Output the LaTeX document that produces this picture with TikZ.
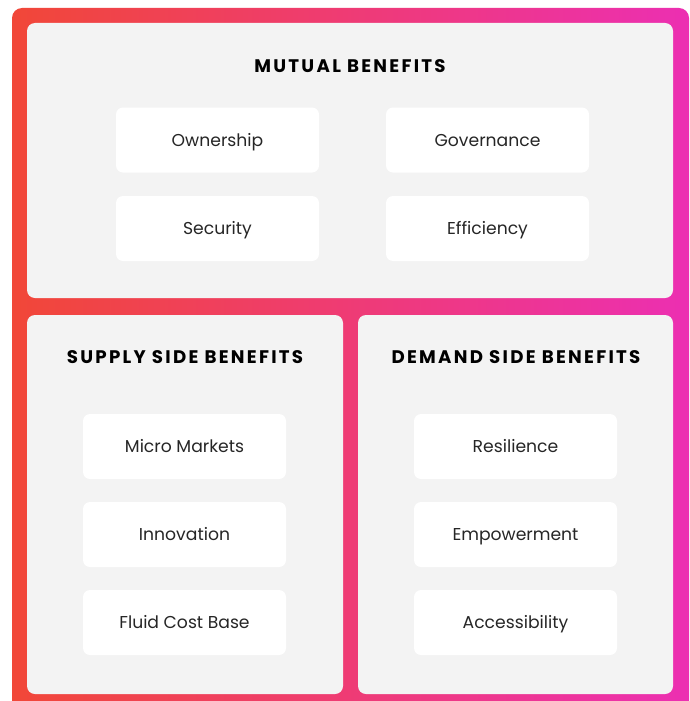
\documentclass[tikz,border=0pt]{standalone}
\usepackage{fontspec}
\setmainfont{Poppins}
\newfontfamily\headfont[LetterSpace=12.5]{Poppins}
\definecolor{edgeL}{RGB}{241,71,56}
\definecolor{edgeR}{RGB}{236,47,178}
\definecolor{panelgray}{RGB}{243,243,243}
\definecolor{ink}{RGB}{38,38,38}
\begin{document}
\begin{tikzpicture}[x=1pt,y=-1pt,
    panel/.style={fill=panelgray,rounded corners=8pt,inner sep=0pt},
    item/.style={fill=white,rounded corners=7pt,minimum width=203pt,minimum height=65pt,
      text=ink,text height=15pt,text depth=3pt,font=\fontsize{17.2}{20}\selectfont},
    head/.style={text=black,text height=15pt,text depth=3pt,
      font=\headfont\bfseries\fontsize{18.2}{20}\selectfont}]
\useasboundingbox (0,0) rectangle (690,701);
\fill[white] (0,0) rectangle (690,701);
% gradient frame
\shade[left color=edgeL,right color=edgeR,rounded corners=10pt] (12,8) rectangle (689,715);
% three panels
\node[panel,minimum width=646pt,minimum height=275pt] (mutual) at (350,160.5) {};
\node[panel,minimum width=316pt,minimum height=379pt] (supply) at (185,504.5) {};
\node[panel,minimum width=315pt,minimum height=379pt] (demand) at (515.5,504.5) {};
\node[head] (mutualhead) at (350,66) {MUTUAL BENEFITS};
\node[head] (supplyhead) at (185,357) {SUPPLY SIDE BENEFITS};
\node[head] (demandhead) at (516,357) {DEMAND SIDE BENEFITS};
% mutual items
\node[item] (ownership) at (217.5,140) {Ownership};
\node[item] (governance) at (487.5,140) {Governance};
\node[item] (security) at (217.5,228.5) {Security};
\node[item] (efficiency) at (487.5,228.5) {Efficiency};
% supply and demand items
\node[item] (micro) at (184.5,446.5) {Micro Markets};
\node[item] (innovation) at (184.5,534.5) {Innovation};
\node[item] (fluid) at (184.5,622.5) {Fluid Cost Base};
\node[item] (resilience) at (515.5,446.5) {Resilience};
\node[item] (empower) at (515.5,534.5) {Empowerment};
\node[item] (access) at (515.5,622.5) {Accessibility};
\end{tikzpicture}
\end{document}
